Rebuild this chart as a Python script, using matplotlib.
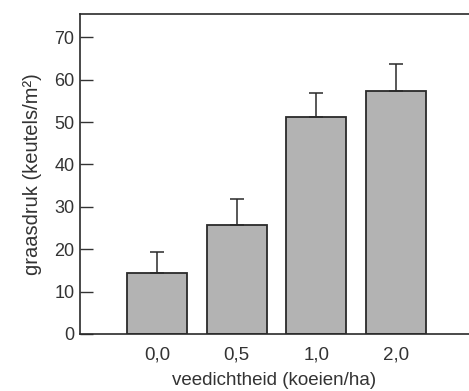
import matplotlib
matplotlib.use("Agg")
import matplotlib.pyplot as plt

# data
dichtheid = ["0,0", "0,5", "1,0", "2,0"]
graasdruk = [14.5, 25.6, 51.1, 57.3]
fout = [4.8, 6.2, 5.7, 6.3]

plt.rcParams["font.family"] = ["Liberation Sans", "DejaVu Sans"]
kleur = "#333333"

fig = plt.figure(figsize=(4.69, 3.91), dpi=100)
ax = fig.add_axes([0.1706, 0.1458, 0.8294, 0.8184])

x = range(len(dichtheid))
ax.bar(x, graasdruk, width=0.75, color="#b3b3b3", edgecolor="#2a2a2a", linewidth=1.3,
       yerr=[[0] * len(fout), fout], capsize=5,
       error_kw=dict(ecolor="#2a2a2a", elinewidth=1.1, capthick=1.1))

ax.set_xlim(-0.97, 3.92)
ax.set_ylim(0, 75.5)
ax.set_yticks([0, 10, 20, 30, 40, 50, 60, 70])
ax.set_xticks(list(x))
ax.set_xticklabels(dichtheid)

ax.tick_params(axis="y", direction="in", length=9, width=1, colors=kleur, labelsize=13, pad=4)
ax.tick_params(axis="x", length=0, colors=kleur, labelsize=13.5, pad=9)
ax.spines["right"].set_visible(False)
for s in ["left", "top", "bottom"]:
    ax.spines[s].set_color("#2a2a2a")
    ax.spines[s].set_linewidth(1.2)

ax.set_xlabel("veedichtheid (koeien/ha)", fontsize=13.5, color=kleur, labelpad=6)
ax.set_ylabel("graasdruk (keutels/m²)", fontsize=14.5, color=kleur, labelpad=9)

fig.savefig("out.png", dpi=100)
